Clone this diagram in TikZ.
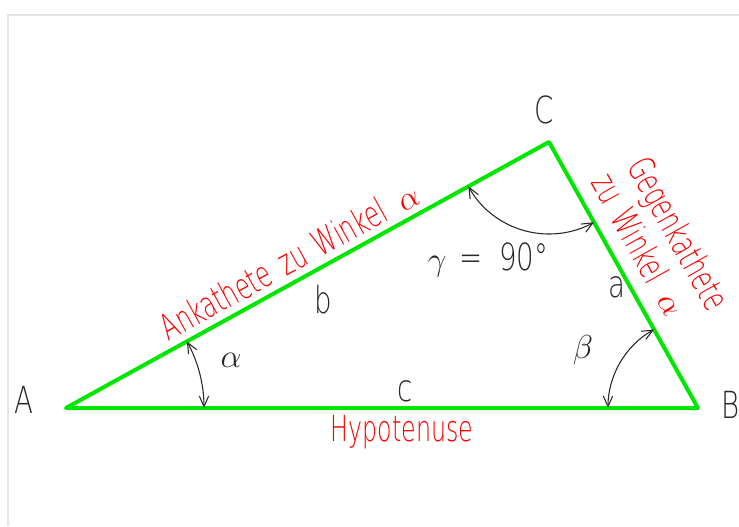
\documentclass[tikz,border=0pt]{standalone}
\usepackage{fontspec}
\setmainfont[FakeStretch=0.74]{DejaVu Sans ExtraLight}
\newfontfamily\redfont[FakeStretch=0.66]{DejaVu Sans ExtraLight}
\usepackage{xcolor}
\usepackage{tikz}
\usetikzlibrary{arrows.meta}
\definecolor{sidegreen}{RGB}{0,230,0}
\definecolor{labelred}{RGB}{250,0,0}
\definecolor{labelgray}{RGB}{40,40,40}
\definecolor{framegray}{RGB}{228,228,228}

\begin{document}
\begin{tikzpicture}[
  x=0.75pt, y=0.75pt,
  side/.style={draw=sidegreen, line width=3pt, line join=round, line cap=round},
  lbl/.style={text=labelgray, inner sep=0pt, font=\fontsize{28}{30}\selectfont},
  red/.style={text=labelred, inner sep=0pt, font=\redfont\fontsize{27}{29}\selectfont},
  ang/.style={draw=labelgray, line width=0.8pt, {Straight Barb[length=8pt,width=7pt]}-{Straight Barb[length=8pt,width=7pt]}},
]
\useasboundingbox[fill=white] (0,0) rectangle (739,526);
\draw[framegray, line width=1.5pt] (8,0) -- (8,511) -- (739,511);
\coordinate (A) at (66,118);
\coordinate (B) at (698,118);
\coordinate (C) at (549,384);
\draw[side] (A) -- (B) -- (C) -- cycle;
\draw[ang] ([shift={(0:138)}]A) arc[start angle=0, end angle=28.84, radius=138];
\draw[ang] ([shift={(180:90)}]B) arc[start angle=180, end angle=119.26, radius=90];
\draw[ang] ([shift={(208.84:92)}]C) arc[start angle=208.84, end angle=299.26, radius=92];
\node[lbl] (la) at (24,126) {A};
\node[lbl] (lb) at (731,121) {B};
\node[lbl] (lc) at (544,416) {C};
\node[lbl] (sb) at (323,226) {b};
\node[lbl] (sc) at (405,135) {c};
\node[lbl] (sa) at (617,239) {a};
\node[lbl] (alpha) at (231,166) {$\alpha$};
\node[lbl] (beta) at (583,176) {$\beta$};
\node[lbl] (gamma) at (488,266) {$\gamma$\hspace{10pt}=\hspace{12pt}90°};
\node[red] (hyp) at (402,94) {Hypotenuse};
\node[red, rotate=28.84] (ank) at (289,266) {Ankathete\hspace{9pt}zu\hspace{9pt}Winkel\hspace{12pt}$\alpha$};
\node[red, rotate=-60.74] (geg) at (676,291) {Gegenkathete};
\node[red, rotate=-60.74] (zuw) at (640,282) {zu\hspace{9pt}Winkel\hspace{12pt}$\alpha$};
\end{tikzpicture}
\end{document}
